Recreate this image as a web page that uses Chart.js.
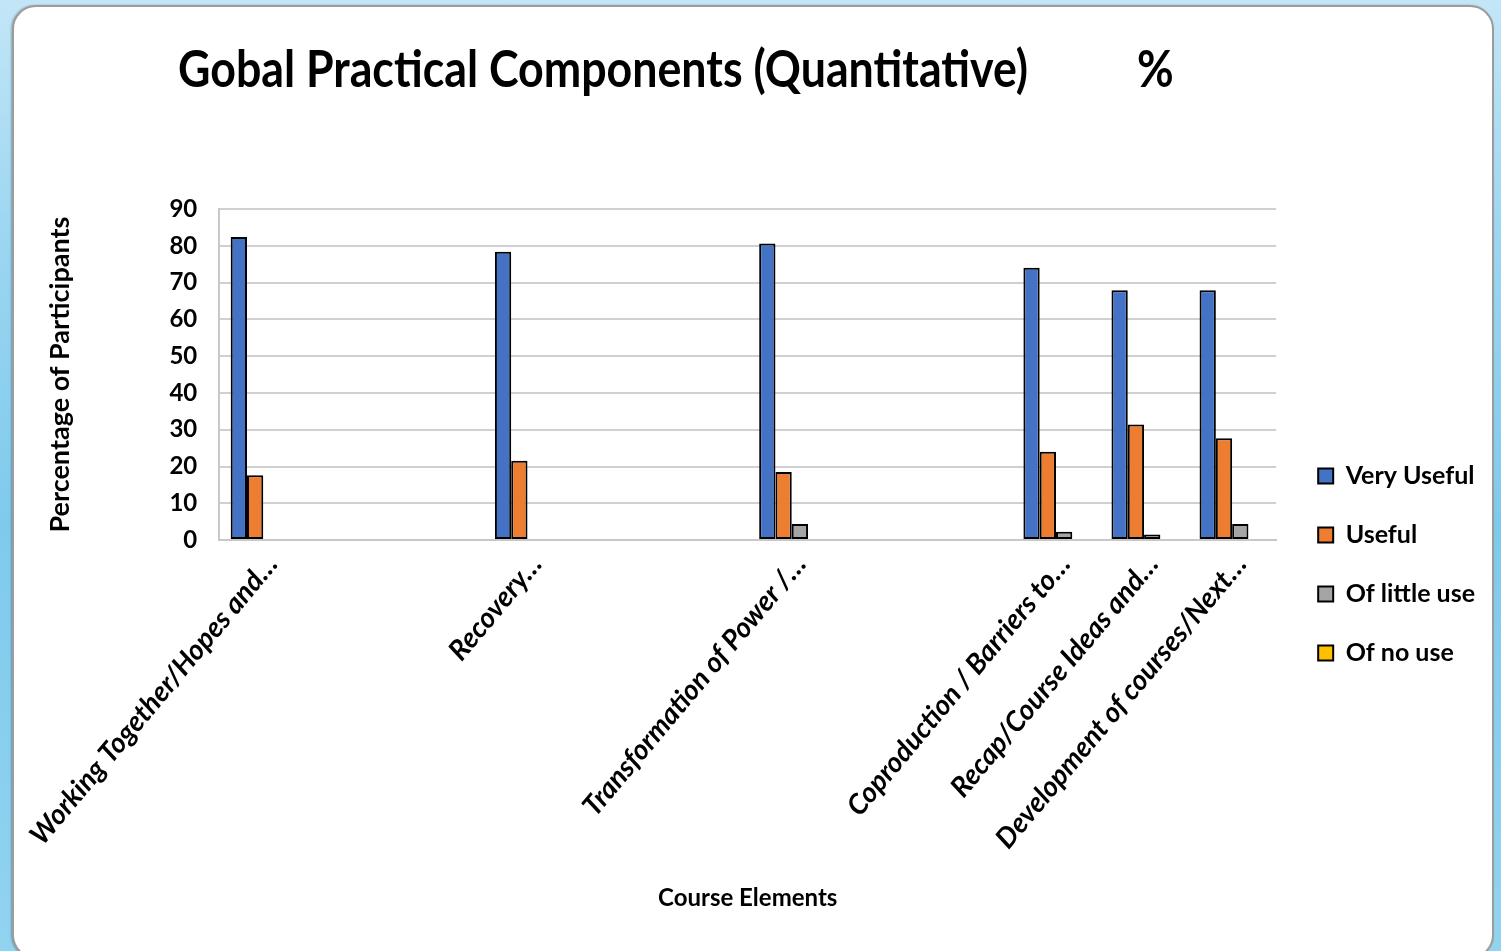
<!DOCTYPE html>
<html>
<head>
<meta charset="utf-8">
<script src="https://cdn.jsdelivr.net/npm/chart.js@4.4.1/dist/chart.umd.min.js"></script>
<style>
html,body{margin:0;padding:0}
body{width:1501px;height:951px;overflow:hidden;position:relative;
  background:linear-gradient(180deg,#c2e6f7 0%,#9cd6f1 25%,#7fcaec 55%,#92d3f0 100%)}
#card{position:absolute;left:12px;top:5px;width:1478px;height:950px;background:#fff;
  border:2px solid #9c9c9c;border-radius:24px;box-shadow:-1px 0 2px rgba(0,0,0,.25)}
#title{position:absolute;left:178px;top:36px;font:bold 52px Lato,sans-serif;color:#000;
  white-space:nowrap;transform-origin:0 0;transform:scaleX(.86)}
#pct{position:absolute;left:1137px;top:36px;font:bold 52px Lato,sans-serif;color:#000;
  transform-origin:0 0;transform:scaleX(.86)}
#wrap{position:absolute;left:13px;top:150px}
</style>
</head>
<body>
<div id="card"></div>
<div id="title">Gobal Practical Components (Quantitative)</div>
<div id="pct">%</div>
<div id="wrap"><canvas id="c" width="1480" height="800"></canvas></div>
<script>
// course elements (blank slots keep the spacing of the axis)
const courseLabels=["Working Together/Hopes and…","","","Recovery…","","","Transformation of Power /…","","","Coproduction / Barriers to…","Recap/Course Ideas and…","Development of courses/Next…"]
const veryUseful=[82.4,null,null,78.4,null,null,80.6,null,null,74,67.9,67.9]
const useful=[17.6,null,null,21.6,null,null,18.5,null,null,24,31.4,27.7]
const littleUse=[0,null,null,0,null,null,4.4,null,null,2.3,1.5,4.4]
const noUse=[0,null,null,0,null,null,0,null,null,0,0,0]
const yTicks=[0,10,20,30,40,50,60,70,80,90]

const font="Lato, sans-serif"

function ds(label,data,color){
  return {label,data,backgroundColor:color,borderColor:"#000",borderWidth:2,borderSkipped:false,
    barPercentage:1,categoryPercentage:0.74}
}

// legend sits a little further right of the plot than its padding allows
const legendNudge={
  id:"legendNudge",
  afterLayout(chart){
    const l=chart.legend
    if(l){l.left+=8;l.right+=8}
  }
}

new Chart(document.getElementById("c"),{
  type:"bar",
  data:{labels:courseLabels,datasets:[
    ds("Very Useful",veryUseful,"#4472C4"),
    ds("Useful",useful,"#ED7D31"),
    ds("Of little use",littleUse,"#A5A5A5"),
    ds("Of no use",noUse,"#FFC000")
  ]},
  options:{
    responsive:false,
    animation:false,
    layout:{padding:{left:31,top:59,right:16,bottom:30}},
    plugins:{
      tooltip:{enabled:false},
      legend:{position:"right",
        labels:{boxWidth:15,boxHeight:15,padding:34,color:"#000",
          font:{family:font,size:25,weight:"bold"}}},
      // axis caption lives in its own box under the rotated labels
      title:{display:true,position:"bottom",fullSize:false,text:"Course Elements",color:"#000",
        padding:{top:29,bottom:7},font:{family:font,size:24,weight:"bold"}}
    },
    scales:{
      x:{
        grid:{display:false},
        border:{color:"#c8c8c8",width:2},
        ticks:{autoSkip:false,minRotation:50,maxRotation:50,color:"#000",padding:0,labelOffset:9,
          font:{family:font,size:28,weight:"bold",style:"italic"}}
      },
      y:{
        min:0,max:90,
        afterBuildTicks(s){s.ticks=yTicks.map(v=>({value:v}))},
        grid:{color:"#d0d0d0",lineWidth:2,drawTicks:false},
        border:{color:"#c8c8c8",width:2},
        ticks:{color:"#000",padding:22,font:{family:font,size:24,weight:"bold"}},
        title:{display:true,text:"Percentage of Participants",color:"#000",padding:{top:0,bottom:71},
          font:{family:font,size:27,weight:"bold"}}
      }
    }
  },
  plugins:[legendNudge]
})
</script>
</body>
</html>
